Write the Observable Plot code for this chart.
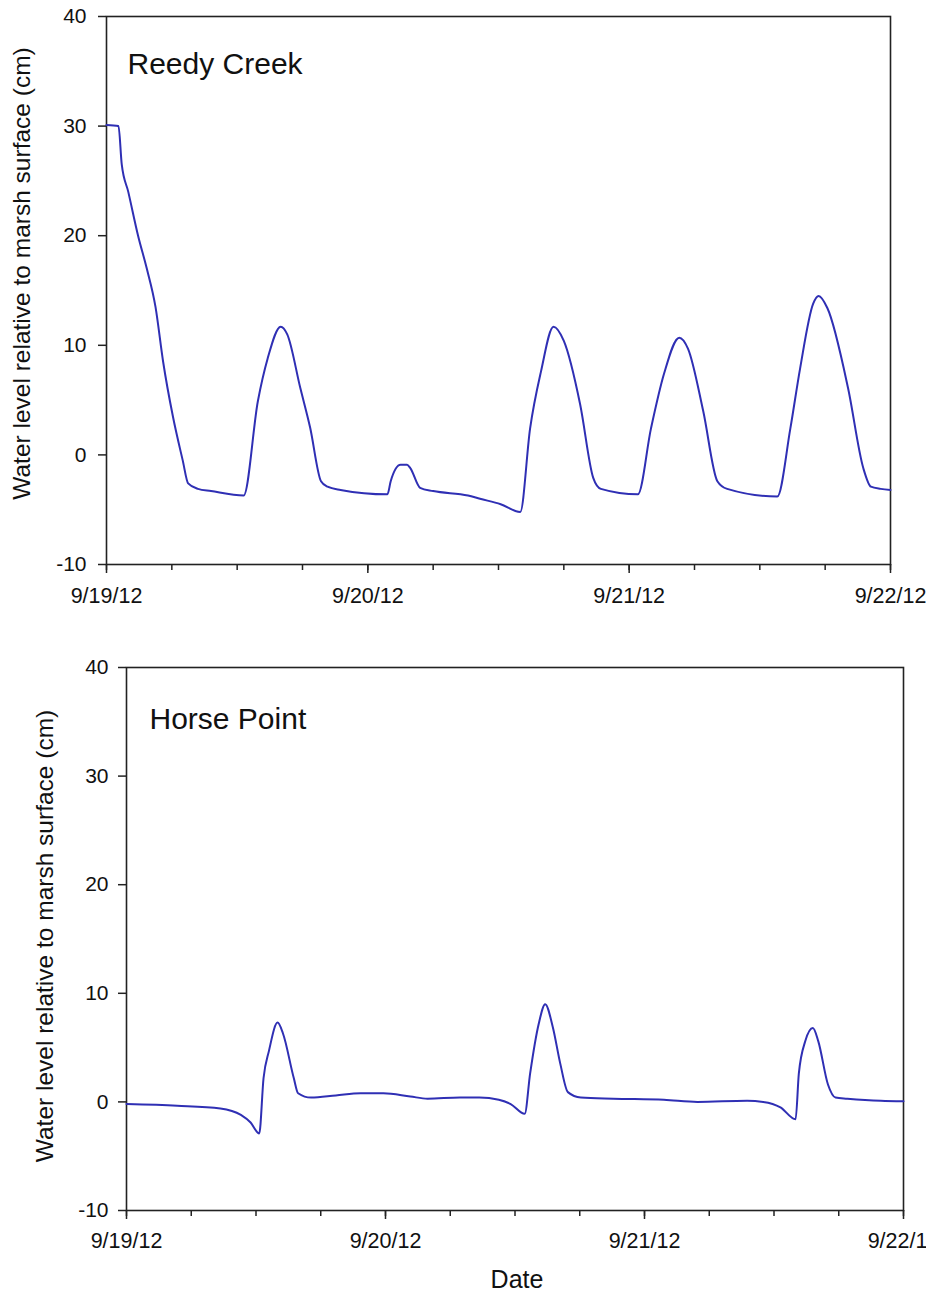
<!DOCTYPE html>
<html>
<head>
<meta charset="utf-8">
<script src="https://cdn.jsdelivr.net/npm/d3@7"></script>
<script src="https://cdn.jsdelivr.net/npm/@observablehq/plot@0.6"></script>
<style>
  html, body { margin: 0; padding: 0; background: #fff; }
  #wrap { width: 926px; height: 1304px; position: relative; overflow: hidden; }
  #wrap svg { display: block; }
</style>
</head>
<body>
<div id="wrap"></div>
<script>
// ---- Data (hours since 9/19/12 00:00, water level in cm) ----
const panelTitles = ["Reedy Creek", "Horse Point"];
const yLabel = "Water level relative to marsh surface (cm)";
const xLabel = "Date";
const dayTicks = ["2012-09-19", "2012-09-20", "2012-09-21", "2012-09-22"];
const yTicks = [-10, 0, 10, 20, 30, 40];

const reedyHours = [0, 1.1, 1.4, 2.0, 2.9, 3.7, 4.5, 5.2, 6.1, 7.0, 7.5, 8.4, 9.6, 12.6,
  13.9, 14.8, 16.0, 16.6, 17.8, 18.7, 19.7, 20.3, 21.5, 25.8, 26.1, 27.0, 27.6, 27.9,
  28.8, 30.0, 33.2, 34.3, 36.2, 38.0, 38.9, 39.9, 41.05, 42.0, 43.5, 44.7, 45.4, 48.8,
  50.0, 51.2, 52.6, 53.4, 54.8, 56.1, 57.0, 61.6, 62.8, 63.7, 64.9, 65.4, 66.2, 68.1,
  69.5, 70.2, 71.1, 72.0];
const reedyLevel = [30.1, 30.0, 26.5, 24.0, 20.0, 17.0, 13.5, 8.5, 3.5, -0.5, -2.6, -3.1, -3.3, -3.7,
  4.9, 8.8, 11.7, 11.0, 6.1, 2.5, -2.4, -2.9, -3.2, -3.6, -2.4, -0.9, -0.9, -1.2,
  -3.0, -3.3, -3.7, -4.0, -4.5, -5.2, 2.4, 7.6, 11.7, 10.4, 4.6, -2.1, -3.1, -3.6,
  2.4, 7.4, 10.7, 9.7, 4.0, -2.4, -3.1, -3.8, 2.4, 7.9, 13.8, 14.5, 13.4, 6.1,
  -1.2, -2.9, -3.1, -3.2];

const horseHours = [0, 4.7, 8.7, 10.6, 11.5, 12.3, 12.7, 13.2, 14.0, 14.5, 15.5, 15.9, 17.1,
  19.4, 21.7, 23.8, 26.3, 27.9, 30.9, 32.7, 34.5, 35.6, 36.9, 37.4, 38.2, 38.8, 39.5,
  40.2, 40.9, 42.1, 45.1, 49.8, 52.9, 57.5, 59.0, 60.6, 62.0, 62.3, 62.9, 63.6, 64.1,
  65.0, 65.7, 66.8, 69.9, 72.0];
const horseLevel = [-0.2, -0.35, -0.6, -1.2, -1.9, -2.9, 2.2, 4.7, 7.3, 6.3, 2.2, 0.8, 0.4,
  0.6, 0.8, 0.8, 0.5, 0.3, 0.4, 0.4, 0.2, -0.2, -1.1, 2.6, 7.2, 9.0, 6.9,
  3.5, 0.9, 0.4, 0.3, 0.2, 0.0, 0.1, 0.0, -0.5, -1.6, 2.6, 5.6, 6.8, 5.6,
  1.6, 0.4, 0.3, 0.1, 0.05];

// ---- helpers ----
const t0 = Date.UTC(2012, 8, 19);
const toRows = (hours, levels) => hours.map((h, i) => ({date: new Date(t0 + h * 3600e3), level: levels[i]}));
const dayDates = dayTicks.map(s => new Date(s + "T00:00:00Z"));
const fmt = d => `${d.getUTCMonth() + 1}/${d.getUTCDate()}/${String(d.getUTCFullYear()).slice(2)}`;
const lineColor = "#2f2fb4";
const inkColor = "#222";

function panel({rows, title, height, mt, mb, ml, mr, titleDx, titleDy, ylabDx, ylabDy, ytp, xtp, withDate}) {
  const marks = [
    Plot.frame({stroke: inkColor, strokeWidth: 1.6}),
    Plot.axisY({ticks: yTicks, tickSize: 8, tickPadding: ytp, tickFormat: d => String(d), label: null, stroke: inkColor, strokeWidth: 1.5, fontSize: 21, fill: "#111"}),
    Plot.axisX({ticks: d3.utcHour.every(6), tickSize: 6, tickFormat: () => "", label: null, stroke: inkColor, strokeWidth: 1.5}),
    Plot.axisX({ticks: dayDates, tickSize: 9, tickPadding: xtp, tickFormat: fmt, label: null, stroke: inkColor, strokeWidth: 1.5, fontSize: 21.5, fill: "#111"}),
    Plot.lineY(rows, {x: "date", y: "level", stroke: lineColor, strokeWidth: 2, curve: "monotone-x"}),
    Plot.text([title], {frameAnchor: "top-left", textAnchor: "start", dx: titleDx, dy: titleDy, fontSize: 30, fill: "#111"}),
    Plot.text([yLabel], {frameAnchor: "left", textAnchor: "middle", rotate: -90, dx: ylabDx, dy: ylabDy, fontSize: 24.5, fill: "#111"})
  ];
  if (withDate) marks.push(Plot.text([xLabel], {frameAnchor: "bottom", dy: 77, dx: 2, fontSize: 25, fill: "#111"}));
  return Plot.plot({
    width: 926, height,
    marginTop: mt, marginBottom: mb, marginLeft: ml, marginRight: mr,
    style: {fontFamily: "'Liberation Sans', Arial, sans-serif", fontSize: "20px", background: "#fff", color: "#111", overflow: "visible"},
    x: {type: "utc", domain: [dayDates[0], dayDates[3]]},
    y: {domain: [-10, 40]},
    marks
  });
}

const wrap = document.getElementById("wrap");
wrap.appendChild(panel({rows: toRows(reedyHours, reedyLevel), title: panelTitles[0], height: 620,
  mt: 16, mb: 56, ml: 106, mr: 36, titleDx: 21, titleDy: 36, ylabDx: -84, ylabDy: -17, ytp: 12, xtp: 14, withDate: false}));
wrap.appendChild(panel({rows: toRows(horseHours, horseLevel), title: panelTitles[1], height: 684,
  mt: 47, mb: 94, ml: 126, mr: 23, titleDx: 23, titleDy: 40, ylabDx: -81, ylabDy: -3, ytp: 10, xtp: 13, withDate: true}));
</script>
</body>
</html>
